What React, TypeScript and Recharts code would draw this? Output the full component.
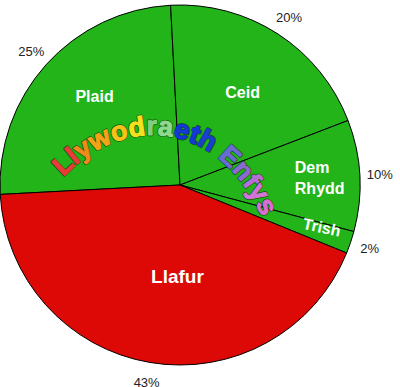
import { PieChart, Pie, Cell } from 'recharts';

const parties = ['Plaid', 'Ceid', 'Dem Rhydd', 'Trish', 'Llafur'];
const shares = [25, 20, 10, 2, 43];
const sliceColors = ['#22b419', '#22b419', '#22b419', '#22b419', '#dc0906'];

const titleLetters = ['L', 'l', 'y', 'w', 'o', 'd', 'r', 'a', 'e', 't', 'h', ' ', 'E', 'n', 'f', 'y', 's'];
const titleColors = [
  '#ea3b3b', '#ea3b3b', '#f08a1a', '#f5a316', '#f6c21a', '#f2e11e', '#7fcf80', '#8fd98f',
  '#1438d6', '#1438d6', '#1a3fcf', '#ffffff', '#6a6bd2', '#8a6ad0', '#b36fd6', '#d274d8', '#d86ed0',
];

// where the white name sits inside each slice: distance from centre, angle nudge, tilt
const innerPos = [
  { r: 123, da: -4, rot: 0 },
  { r: 112, da: -1, rot: 0 },
  { r: 140, da: 0, rot: 0 },
  { r: 148, da: 2, rot: 12 },
  { r: 91, da: 8, rot: 0 },
];

const data = parties.map((name, i) => ({ name, value: shares[i] }));

const RAD = Math.PI / 180;

function renderLabel(props: any) {
  const { cx, cy, midAngle, outerRadius, index, name, value } = props;
  const px = cx + (outerRadius + 20) * Math.cos(-midAngle * RAD);
  const py = cy + (outerRadius + 20) * Math.sin(-midAngle * RAD);
  const p = innerPos[index];
  const a = midAngle + p.da;
  const ix = cx + p.r * Math.cos(-a * RAD);
  const iy = cy + p.r * Math.sin(-a * RAD);
  const words = String(name).split(' ');
  const big = name === 'Llafur';
  return (
    <g>
      <text x={px} y={py} textAnchor="middle" dominantBaseline="central"
        fontSize={13} fill="#222" fontFamily="Liberation Sans, Arial, sans-serif">
        {value}%
      </text>
      <text
        x={ix}
        y={iy}
        textAnchor={words.length > 1 ? 'start' : 'middle'}
        fill="#fff"
        fontWeight="bold"
        fontSize={big ? 19 : 16}
        fontFamily="Liberation Sans, Arial, sans-serif"
        transform={p.rot ? `rotate(${p.rot} ${ix} ${iy})` : undefined}
      >
        {words.length > 1
          ? words.map((w, k) => (
              <tspan key={k} x={ix - 25} dy={k === 0 ? -5 : 21}>{w}</tspan>
            ))
          : <tspan dy="0.35em">{name}</tspan>}
      </text>
    </g>
  );
}

function RainbowTitle() {
  const common = {
    fontSize: 27,
    fontWeight: 'bold' as const,
    fontFamily: 'Liberation Sans, Arial, sans-serif',
    letterSpacing: 0.4,
  };
  return (
    <svg width={400} height={387} style={{ position: 'absolute', left: 0, top: 0, pointerEvents: 'none' }}>
      <defs>
        <path id="enfysArc" d="M 63,177 C 125,112 222,118 266,226" fill="none" />
      </defs>
      <text {...common} stroke="rgba(0,0,0,0.55)" strokeWidth={2.4} strokeLinejoin="round">
        <textPath href="#enfysArc">
          {titleLetters.map((ch, i) => (
            <tspan key={i} fill={titleColors[i]}>{ch}</tspan>
          ))}
        </textPath>
      </text>
      <text {...common} strokeWidth={1.1} strokeLinejoin="round">
        <textPath href="#enfysArc">
          {titleLetters.map((ch, i) => (
            <tspan key={i} fill={titleColors[i]} stroke={titleColors[i]}>{ch}</tspan>
          ))}
        </textPath>
      </text>
    </svg>
  );
}

export default function App() {
  return (
    <div style={{ position: 'absolute', left: 0, top: 0, width: 400, height: 387, background: '#fff' }}>
      <PieChart width={400} height={387} margin={{ top: 0, right: 0, bottom: 0, left: 0 }}>
        <Pie
          data={data}
          dataKey="value"
          nameKey="name"
          cx={180}
          cy={185}
          outerRadius={180}
          startAngle={183}
          endAngle={-177}
          stroke="#000"
          strokeWidth={1}
          label={renderLabel}
          labelLine={false}
          isAnimationActive={false}
        >
          {data.map((d, i) => (
            <Cell key={d.name} fill={sliceColors[i]} />
          ))}
        </Pie>
      </PieChart>
      <RainbowTitle />
    </div>
  );
}
